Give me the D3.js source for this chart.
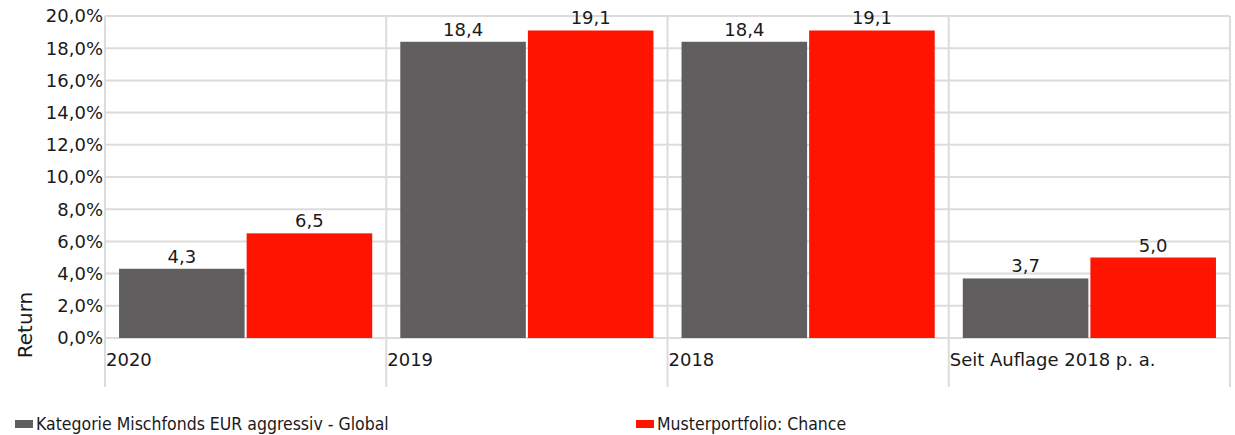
<!DOCTYPE html>
<html>
<head>
<meta charset="utf-8">
<script src="https://cdn.jsdelivr.net/npm/d3@7"></script>
<style>
  body { margin: 0; background: #fff; }
  text { font-family: "DejaVu Sans", Verdana, sans-serif; fill: #1a1a1a; }
</style>
</head>
<body>
<div id="chart"></div>
<script>
// data
var categories = ["2020", "2019", "2018", "Seit Auflage 2018 p. a."];
var seriesNames = ["Kategorie Mischfonds EUR aggressiv - Global", "Musterportfolio: Chance"];
var kategorie = [4.3, 18.4, 18.4, 3.7];
var muster = [6.5, 19.1, 19.1, 5.0];
var yTicks = [0, 2, 4, 6, 8, 10, 12, 14, 16, 18, 20];
var colors = ["#605e5f", "#ff1400"];

var width = 1235, height = 435;
var plotLeft = 105, plotRight = 1230, plotTop = 16, plotBottom = 338;
var fs = "18px";

var svg = d3.select("#chart").append("svg")
    .attr("width", width)
    .attr("height", height);

var x = d3.scaleBand()
    .domain(categories)
    .range([plotLeft, plotRight]);

var inner = d3.scaleBand()
    .domain([0, 1])
    .range([0, x.bandwidth()])
    .paddingInner(0.016)
    .paddingOuter(0.11);

var y = d3.scaleLinear()
    .domain([0, 20])
    .range([plotBottom, plotTop]);

// horizontal grid
svg.append("g")
    .selectAll("line")
    .data(yTicks)
    .join("line")
    .attr("x1", plotLeft)
    .attr("x2", plotRight)
    .attr("y1", d => y(d))
    .attr("y2", d => y(d))
    .attr("stroke", "#dcdcdc")
    .attr("stroke-width", 2);

// vertical grid (category separators, extend under labels)
var seps = categories.map(c => x(c)).concat([plotRight]);
svg.append("g")
    .selectAll("line")
    .data(seps)
    .join("line")
    .attr("x1", d => d)
    .attr("x2", d => d)
    .attr("y1", plotTop)
    .attr("y2", 387)
    .attr("stroke", "#dcdcdc")
    .attr("stroke-width", 2);

// y tick labels
svg.append("g")
    .selectAll("text")
    .data(yTicks)
    .join("text")
    .attr("x", plotLeft - 2)
    .attr("y", d => y(d))
    .attr("dy", "0.35em")
    .attr("text-anchor", "end")
    .style("font-size", fs)
    .text(d => d.toFixed(1).replace(".", ",") + "%");

// y axis title
svg.append("text")
    .attr("transform", "translate(32,325) rotate(-90)")
    .attr("text-anchor", "middle")
    .style("font-size", "20px")
    .text("Return");

// category labels
svg.append("g")
    .selectAll("text")
    .data(categories)
    .join("text")
    .attr("x", d => x(d) + 1)
    .attr("y", 366)
    .style("font-size", fs)
    .text(d => d);

// bars
var rows = [];
categories.forEach((c, i) => {
    rows.push({cat: c, s: 0, v: kategorie[i]});
    rows.push({cat: c, s: 1, v: muster[i]});
});

svg.append("g")
    .selectAll("rect")
    .data(rows)
    .join("rect")
    .attr("x", d => x(d.cat) + inner(d.s))
    .attr("width", inner.bandwidth())
    .attr("y", d => y(d.v))
    .attr("height", d => y(0) - y(d.v))
    .attr("fill", d => colors[d.s]);

// value labels
svg.append("g")
    .selectAll("text")
    .data(rows)
    .join("text")
    .attr("x", d => x(d.cat) + inner(d.s) + inner.bandwidth() / 2)
    .attr("y", d => y(d.v) - 6)
    .attr("text-anchor", "middle")
    .style("font-size", fs)
    .text(d => d.v.toFixed(1).replace(".", ","));

// legend
var legendX = [15, 636];
var legend = svg.append("g")
    .selectAll("g")
    .data(seriesNames)
    .join("g")
    .attr("transform", (d, i) => `translate(${legendX[i]},424)`);

legend.append("rect")
    .attr("x", 0)
    .attr("y", -4)
    .attr("width", 18)
    .attr("height", 8)
    .attr("fill", (d, i) => colors[i]);

legend.append("text")
    .attr("x", 21)
    .attr("dy", "0.35em")
    .style("font-family", "'DejaVu Sans Condensed', 'DejaVu Sans', sans-serif")
    .style("font-stretch", "condensed")
    .style("font-size", "17.5px")
    .text(d => d);
</script>
</body>
</html>
